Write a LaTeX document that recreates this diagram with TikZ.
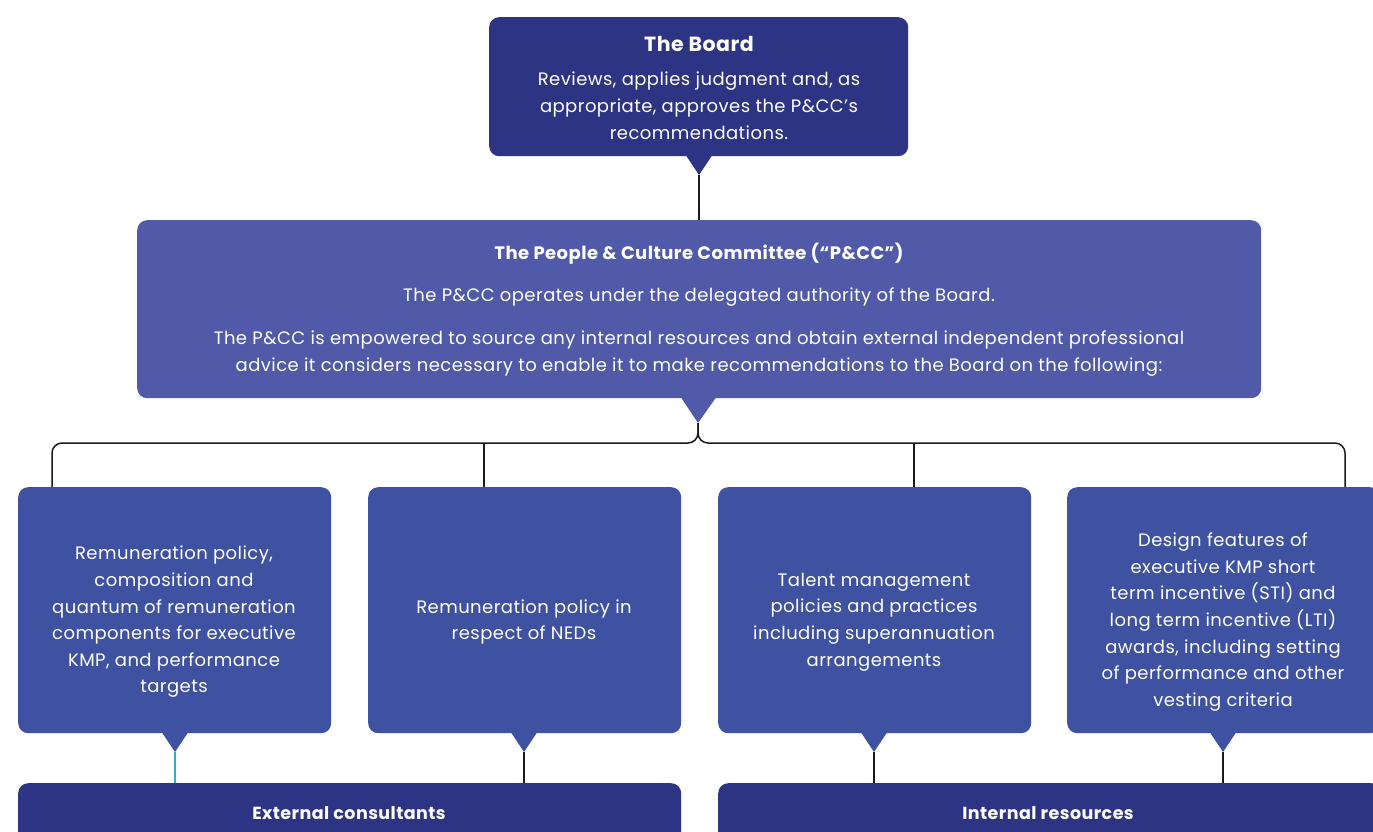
\documentclass[tikz,border=0pt]{standalone}
\usepackage{fontspec}
\setmainfont{Poppins}[LetterSpace=2.5]
\definecolor{navy}{HTML}{2D3484}
\definecolor{pccblue}{HTML}{505AA8}
\definecolor{midblue}{HTML}{3F51A1}
\definecolor{tealline}{HTML}{1FB8C8}
\definecolor{linecol}{HTML}{1A1A1A}
\begin{document}
\begin{tikzpicture}[x=1pt,y=-1pt,
  box/.style={rounded corners=10pt, inner sep=0pt, anchor=north west, draw=none},
  txt/.style={text=white, align=center, inner sep=0pt, font=\fontsize{18}{26.6}\selectfont},
  ttl/.style={text=white, align=center, inner sep=0pt, font=\fontsize{18}{26.6}\selectfont\bfseries},
  conn/.style={draw=linecol, line width=1.5pt},
  tconn/.style={draw=tealline, line width=1.5pt}]
\useasboundingbox (0,0) rectangle (1373,832);
\clip (0,0) rectangle (1373,832);
\fill[white] (0,0) rectangle (1373,832);

% Board
\node[box, fill=navy, minimum width=419pt, minimum height=139pt] (board) at (489,17) {};
\fill[navy] (685,154) -- (713,154) -- (699,175) -- cycle;
\coordinate (boardtip) at (699,175);
\node[ttl, font=\fontsize{20.5}{26.6}\selectfont\bfseries] (boardtitle) at (699,44) {The Board};
\node[txt, anchor=north] (boardtext) at (699,72) {Reviews, applies judgment and, as\\appropriate, approves the P\&CC’s\\recommendations.};

% PCC
\node[box, fill=pccblue, minimum width=1124pt, minimum height=178pt] (pcc) at (137,220) {};
\fill[pccblue] (680,396) -- (717,396) -- (698,423) -- cycle;
\coordinate (pcctip) at (698,423);
\node[ttl] (pcctitle) at (699,254) {The People \& Culture Committee (“P\&CC”)};
\node[txt] (pccline) at (699,297) {The P\&CC operates under the delegated authority of the Board.};
\node[txt, anchor=north] (pccpara) at (699,331) {The P\&CC is empowered to source any internal resources and obtain external independent professional\\advice it considers necessary to enable it to make recommendations to the Board on the following:};

\draw[conn] (boardtip) -- (pcc.north -| boardtip);

% Row 2 boxes
\node[box, fill=midblue, minimum width=313pt, minimum height=246pt] (b1) at (18,487) {};
\node[box, fill=midblue, minimum width=313pt, minimum height=246pt] (b2) at (368,487) {};
\node[box, fill=midblue, minimum width=313pt, minimum height=246pt] (b3) at (718,487) {};
\node[box, fill=midblue, minimum width=313pt, minimum height=246pt] (b4) at (1067,487) {};
\foreach \c/\n in {175/1,524/2,874/3,1223/4}{
  \fill[midblue] (\c-14,731) -- (\c+14,731) -- (\c,752) -- cycle;
  \coordinate (tip\n) at (\c,752);
}

\node[txt] (t1) at (174,622) {Remuneration policy,\\composition and\\quantum of remuneration\\components for executive\\KMP, and performance\\targets};
\node[txt] (t2) at (524,622) {Remuneration policy in\\respect of NEDs};
\node[txt] (t3) at (874,622) {Talent management\\policies and practices\\including superannuation\\arrangements};
\node[txt] (t4) at (1223,622) {Design features of\\executive KMP short\\term incentive (STI) and\\long term incentive (LTI)\\awards, including setting\\of performance and other\\vesting criteria};

% Branch connectors
\coordinate (j1) at (52,487);
\coordinate (j2) at (484,487);
\coordinate (j3) at (914,487);
\coordinate (j4) at (1345,487);
\draw[conn, rounded corners=10pt] (pcctip) -- (698,443) -- (52,443) -- (j1);
\draw[conn, rounded corners=10pt] (pcctip) -- (698,443) -- (1345,443) -- (j4);
\draw[conn] (484,443) -- (j2);
\draw[conn] (914,443) -- (j3);

% Bottom boxes
\node[box, fill=navy, minimum width=663pt, minimum height=80pt] (ext) at (18,783) {};
\node[box, fill=navy, minimum width=663pt, minimum height=80pt] (int) at (718,783) {};
\node[ttl, font=\fontsize{17.5}{26.6}\selectfont\bfseries] (exttext) at (349,813) {External consultants};
\node[ttl, font=\fontsize{17.5}{26.6}\selectfont\bfseries] (inttext) at (1048,813) {Internal resources};

\draw[tconn] (tip1) -- (tip1 |- ext.north);
\draw[conn] (tip2) -- (tip2 |- ext.north);
\draw[conn] (tip3) -- (tip3 |- int.north);
\draw[conn] (tip4) -- (tip4 |- int.north);
\end{tikzpicture}
\end{document}
